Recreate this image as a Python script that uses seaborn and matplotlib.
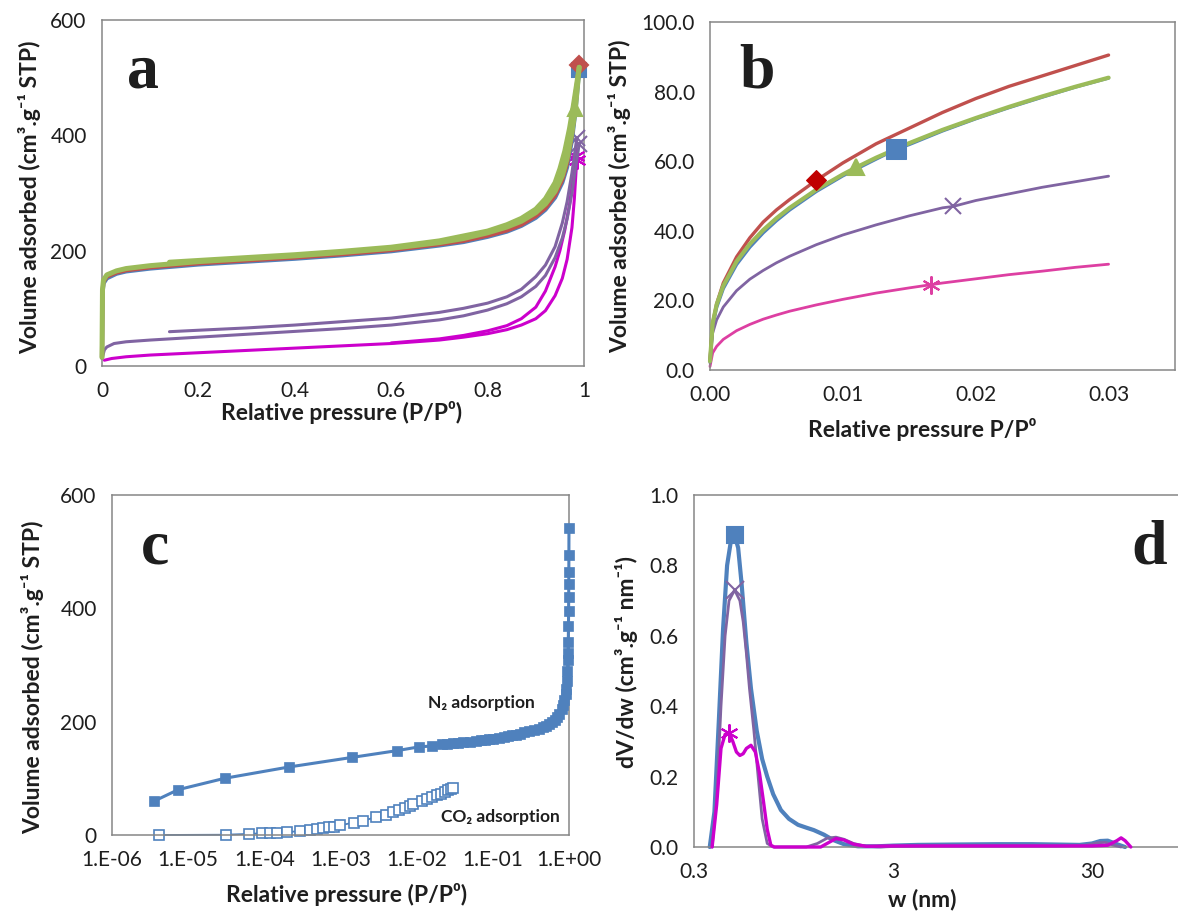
import matplotlib
matplotlib.use("Agg")
import matplotlib.pyplot as plt
import seaborn as sns
from matplotlib.ticker import FixedLocator, FixedFormatter, NullLocator

# ---------------------------------------------------------------- data
# (a) full N2 isotherms: adsorption branch and desorption branch per sample
a_ads_p = [0.0, 0.001, 0.003, 0.01, 0.03, 0.05, 0.1, 0.2, 0.3, 0.4, 0.5, 0.6,
           0.7, 0.75, 0.8, 0.84, 0.87, 0.9, 0.92, 0.94, 0.955, 0.965, 0.975,
           0.982, 0.99]
a_blue_ads = [15, 125, 143, 152, 160, 164, 169, 176, 181, 186, 192, 199, 209,
              215, 224, 233, 243, 257, 271, 292, 318, 345, 392, 440, 513]
a_red_ads = [15, 128, 146, 155, 162, 166, 171, 178, 183, 188, 194, 201, 211,
             217, 226, 235, 245, 260, 274, 296, 323, 352, 400, 450, 522]
a_green_ads = [15, 132, 149, 158, 165, 169, 174, 181, 186, 191, 197, 204, 214,
               221, 231, 241, 251, 266, 281, 303, 330, 360, 405, 445, 518]

a_des_p = [0.99, 0.985, 0.978, 0.97, 0.96, 0.95, 0.94, 0.92, 0.9, 0.87, 0.84,
           0.8, 0.7, 0.6, 0.5, 0.4, 0.3, 0.2, 0.14]
a_blue_des = [513, 480, 440, 400, 360, 330, 308, 280, 263, 248, 237, 227, 211,
              201, 194, 188, 183, 178, 175]
a_red_des = [522, 488, 448, 408, 368, 337, 314, 285, 267, 251, 240, 230, 214,
             203, 196, 190, 185, 180, 177]
a_green_des = [518, 490, 452, 412, 372, 342, 318, 290, 272, 256, 245, 234,
               217, 206, 199, 193, 188, 183, 180]

a_pur_ads_p = [0.0, 0.005, 0.01, 0.025, 0.05, 0.1, 0.2, 0.3, 0.4, 0.5, 0.6,
               0.7, 0.75, 0.8, 0.84, 0.87, 0.9, 0.92, 0.94, 0.955, 0.965,
               0.975, 0.982, 0.99]
a_pur_ads = [13, 28, 33, 39, 42, 45, 50, 55, 60, 65, 71, 80, 87, 97, 108, 120,
             138, 157, 188, 222, 255, 300, 340, 385]
a_pur_des_p = [0.985, 0.98, 0.975, 0.965, 0.955, 0.94, 0.92, 0.9, 0.87, 0.84,
               0.8, 0.75, 0.7, 0.6, 0.5, 0.4, 0.3, 0.2, 0.14]
a_pur_des = [395, 365, 335, 285, 248, 207, 175, 155, 133, 120, 109, 100, 93,
             83, 77, 71, 66, 62, 59.5]

a_mag_ads_p = [0.005, 0.02, 0.05, 0.1, 0.2, 0.3, 0.4, 0.5, 0.6, 0.7, 0.75,
               0.8, 0.84, 0.87, 0.9, 0.92, 0.94, 0.955, 0.965, 0.975, 0.98,
               0.985]
a_mag_ads = [10, 13, 16, 19, 23, 27, 31, 35, 39, 45, 50, 56, 63, 71, 82, 96,
             122, 152, 185, 240, 290, 358]
a_mag_des_p = [0.983, 0.978, 0.97, 0.96, 0.95, 0.94, 0.92, 0.9, 0.87, 0.84,
               0.8, 0.75, 0.7, 0.6]
a_mag_des = [365, 330, 280, 235, 200, 172, 130, 102, 82, 70, 61, 53, 47, 40]

# (b) low-pressure region of the isotherms
b_red_p = [0, 0.0002, 0.0005, 0.001, 0.002, 0.003, 0.004, 0.005, 0.006, 0.008,
           0.010, 0.0125, 0.015, 0.0175, 0.020, 0.0225, 0.025, 0.0275, 0.030]
b_red_v = [3.0, 13.5, 19.0, 25.0, 32.5, 38.0, 42.5, 46.0, 49.0, 54.5, 59.5,
           65.0, 69.5, 74.0, 78.0, 81.5, 84.5, 87.5, 90.5]
b_green_p = [0, 0.0002, 0.0005, 0.001, 0.002, 0.003, 0.004, 0.005, 0.006,
             0.008, 0.010, 0.011, 0.0125, 0.015, 0.0175, 0.020, 0.0225, 0.025,
             0.0275, 0.030]
b_green_v = [2.5, 13.4, 18.8, 24.2, 31.2, 36.2, 40.2, 43.6, 46.6, 51.8, 56.2,
             58.2, 61.0, 65.2, 69.0, 72.4, 75.6, 78.6, 81.4, 84.0]
b_blue_p = [0, 0.0002, 0.0005, 0.001, 0.002, 0.003, 0.004, 0.005, 0.006,
            0.008, 0.010, 0.0125, 0.014, 0.015, 0.0175, 0.020, 0.0225, 0.025,
            0.0275, 0.030]
b_blue_v = [2.5, 12.8, 18.0, 23.4, 30.3, 35.3, 39.4, 42.9, 46.0, 51.3, 55.8,
            60.6, 63.4, 64.8, 68.7, 72.2, 75.4, 78.4, 81.3, 83.9]
b_pur_p = [0, 0.0002, 0.0005, 0.001, 0.002, 0.003, 0.004, 0.005, 0.006, 0.008,
           0.010, 0.0125, 0.015, 0.0175, 0.0183, 0.020, 0.0225, 0.025, 0.0275,
           0.030]
b_pur_v = [2.0, 10.6, 14.4, 18.1, 22.8, 26.1, 28.6, 30.8, 32.7, 36.0, 38.8,
           41.7, 44.3, 46.6, 47.0, 48.7, 50.6, 52.5, 54.1, 55.7]
b_pink_p = [0, 0.0002, 0.0005, 0.001, 0.002, 0.003, 0.004, 0.005, 0.006,
            0.008, 0.010, 0.0125, 0.015, 0.0166, 0.0175, 0.020, 0.0225, 0.025,
            0.0275, 0.030]
b_pink_v = [1.0, 4.9, 6.8, 8.8, 11.3, 13.1, 14.6, 15.8, 16.9, 18.7, 20.3,
            22.1, 23.6, 24.5, 25.0, 26.2, 27.4, 28.4, 29.5, 30.4]

# (c) N2 and CO2 adsorption on a log pressure scale
c_n2_p = [3.6e-6, 7.4e-6, 3.0e-5, 2.1e-4, 1.43e-3, 5.6e-3, 0.0108, 0.0158,
          0.0213, 0.025, 0.03, 0.035, 0.04, 0.05, 0.06, 0.07, 0.08, 0.09, 0.1,
          0.12, 0.14, 0.16, 0.18, 0.2, 0.23, 0.26, 0.3, 0.35, 0.4, 0.45, 0.5,
          0.55, 0.6, 0.65, 0.7, 0.75, 0.8, 0.84, 0.87, 0.9, 0.92, 0.94, 0.955,
          0.965, 0.972, 0.978, 0.984, 0.988, 0.991, 0.993, 0.995, 0.997, 0.999]
c_n2_v = [60, 80, 100, 120, 137, 149, 155.6, 157, 160, 161, 162, 163, 164,
          165, 166, 167, 168, 169, 170, 172, 173, 175, 176, 177, 179, 181, 183,
          185, 187, 190, 193, 196, 199, 203, 208, 214, 222, 230, 238, 248, 258,
          272, 290, 308, 322, 340, 368, 395, 420, 443, 465, 495, 542]
c_co2_p = [4.1e-6, 3.1e-5, 6.2e-5, 9.2e-5, 1.2e-4, 1.47e-4, 2.0e-4, 2.9e-4,
           4.0e-4, 4.9e-4, 5.9e-4, 7.0e-4, 8.2e-4, 9.8e-4, 1.5e-3, 2.0e-3,
           2.95e-3, 3.96e-3, 4.9e-3, 5.9e-3, 7.0e-3, 8.2e-3, 9.0e-3, 0.0116,
           0.0138, 0.016, 0.0183, 0.0207, 0.0233, 0.0258, 0.0282, 0.0302]
c_co2_v = [0.0, 0.5, 2, 3, 4, 4, 5, 7, 9, 10, 12, 13.5, 15, 17, 22, 25, 32, 36,
           40, 44, 47, 51, 54, 60, 64, 67, 71, 73, 76, 79, 81, 83.6]

# (d) pore size distributions
d_blue_w = [0.36, 0.38, 0.40, 0.42, 0.44, 0.46, 0.48, 0.50, 0.52, 0.55, 0.58,
            0.62, 0.66, 0.70, 0.75, 0.82, 0.90, 1.0, 1.1, 1.2, 1.35, 1.5, 1.7,
            2.0, 2.5, 3.0, 4.0, 6.0, 10, 15, 20, 26, 30, 33, 36, 40, 44]
d_blue_v = [0.0, 0.10, 0.36, 0.62, 0.80, 0.87, 0.886, 0.85, 0.75, 0.58, 0.45,
            0.33, 0.25, 0.20, 0.15, 0.105, 0.08, 0.063, 0.055, 0.048, 0.035,
            0.02, 0.008, 0.002, 0.002, 0.004, 0.006, 0.007, 0.008, 0.008,
            0.007, 0.006, 0.010, 0.017, 0.018, 0.008, 0.0]
d_pur_w = [0.37, 0.39, 0.41, 0.43, 0.45, 0.48, 0.51, 0.53, 0.55, 0.57, 0.60,
           0.63, 0.66, 0.70, 0.75, 0.9, 1.1, 1.25, 1.4, 1.55, 1.7, 1.9, 2.2,
           2.6, 3.2, 5, 10, 20, 28, 32, 35, 38, 42]
d_pur_v = [0.0, 0.14, 0.40, 0.60, 0.70, 0.73, 0.70, 0.64, 0.55, 0.45, 0.33,
           0.20, 0.08, 0.01, 0.0, 0.0, 0.0, 0.01, 0.025, 0.028, 0.022, 0.01,
           0.002, 0.0, 0.002, 0.003, 0.003, 0.003, 0.005, 0.012, 0.013, 0.006,
           0.0]
d_mag_w = [0.37, 0.39, 0.41, 0.43, 0.45, 0.47, 0.49, 0.51, 0.53, 0.55, 0.58,
           0.61, 0.64, 0.67, 0.70, 0.73, 0.76, 1.0, 1.3, 1.45, 1.55, 1.7, 1.9,
           2.2, 3, 5, 10, 20, 30, 36, 40, 42, 44, 47]
d_mag_v = [0.0, 0.12, 0.28, 0.32, 0.325, 0.30, 0.27, 0.26, 0.265, 0.28, 0.289,
           0.27, 0.21, 0.13, 0.05, 0.005, 0.0, 0.0, 0.0, 0.015, 0.024, 0.02,
           0.008, 0.002, 0.003, 0.003, 0.003, 0.003, 0.003, 0.005, 0.018,
           0.026, 0.018, 0.0]

a_xticks = [0, 0.2, 0.4, 0.6, 0.8, 1.0]
a_xlabels = ["0", "0.2", "0.4", "0.6", "0.8", "1"]
iso_yticks = [0, 200, 400, 600]
b_xticks = [0.0, 0.01, 0.02, 0.03]
b_yticks = [0, 20, 40, 60, 80, 100]
c_xticks = [1e-6, 1e-5, 1e-4, 1e-3, 1e-2, 1e-1, 1e0]
c_xlabels = ["1.E-06", "1.E-05", "1.E-04", "1.E-03", "1.E-02", "1.E-01",
             "1.E+00"]
d_xticks = [0.3, 3, 30]
d_xlabels = ["0.3", "3", "30"]
d_yticks = [0.0, 0.2, 0.4, 0.6, 0.8, 1.0]

# ---------------------------------------------------------------- style
BLUE, RED, GREEN = "#4F81BD", "#C0504D", "#9BBB59"
PURPLE, MAGENTA, PINK = "#8064A2", "#CC00CC", "#DD3FA2"
DARKRED = "#C00000"
AXIS_GREY = "#868686"
TEXT = "#1e1e1e"

sns.set_style("white")
plt.rcParams["font.family"] = ["Lato", "DejaVu Sans"]

W, H = 1178, 911
fig = plt.figure(figsize=(W / 100, H / 100), dpi=100)


def make_axes(left, right, top, bottom):
    ax = fig.add_axes([left / W, 1 - bottom / H, (right - left) / W,
                       (bottom - top) / H])
    for s in ax.spines.values():
        s.set_color(AXIS_GREY)
        s.set_linewidth(1.1)
    ax.tick_params(direction="out", length=6, width=1.1, color=AXIS_GREY,
                   labelsize=15, labelcolor=TEXT, pad=5)
    ax.set_facecolor("white")
    return ax


def curve(ax, x, y, color, lw, marker=None, ms=10, idx=None, mfc=None,
          mew=1.5, z=2):
    kw = dict(x=x, y=y, ax=ax, color=color, linewidth=lw, sort=False,
              estimator=None, zorder=z, clip_on=False)
    if marker is not None:
        kw.update(marker=marker, markersize=ms, markevery=idx,
                  markerfacecolor=mfc if mfc is not None else color,
                  markeredgecolor=color, markeredgewidth=mew)
    sns.lineplot(**kw)


def fig_text(x, y, s, **kw):
    fig.text(x / W, 1 - y / H, s, ha="center", va="center", color=TEXT, **kw)


ASTER = (6, 2, 0)

# ---------------------------------------------------------------- (a)
ax = make_axes(102, 584, 20, 366)
curve(ax, a_mag_ads_p, a_mag_ads, MAGENTA, 2.2, ASTER, 13, [21], z=3)
curve(ax, a_mag_des_p, a_mag_des, MAGENTA, 2.2, ASTER, 13, [0], z=3)
curve(ax, a_pur_ads_p, a_pur_ads, PURPLE, 2.2, "x", 12, [23], z=3)
curve(ax, a_pur_des_p, a_pur_des, PURPLE, 2.2, "x", 12, [0], z=3)
curve(ax, a_ads_p, a_blue_ads, BLUE, 3.0, "s", 10, [24], z=4)
curve(ax, a_des_p, a_blue_des, BLUE, 3.0, z=4)
curve(ax, a_ads_p, a_red_ads, RED, 3.0, z=5)
curve(ax, a_des_p, a_red_des, RED, 3.0, "D", 9, [0], z=5)
curve(ax, a_ads_p, a_green_ads, GREEN, 3.6, "^", 10, [23], z=6)
curve(ax, a_des_p, a_green_des, GREEN, 3.6, z=6)
ax.set_xlim(0, 1)
ax.set_ylim(0, 600)
ax.xaxis.set_major_locator(FixedLocator(a_xticks))
ax.xaxis.set_major_formatter(FixedFormatter(a_xlabels))
ax.yaxis.set_major_locator(FixedLocator(iso_yticks))
ax.set_xlabel("")
ax.set_ylabel("")

# ---------------------------------------------------------------- (b)
ax = make_axes(710, 1175, 22, 370)
curve(ax, b_pink_p, b_pink_v, PINK, 2.0, ASTER, 13, [13])
curve(ax, b_pur_p, b_pur_v, PURPLE, 2.0, "x", 12, [14])
curve(ax, b_blue_p, b_blue_v, BLUE, 2.4, z=3)
curve(ax, b_red_p, b_red_v, RED, 2.4, z=3)
curve(ax, b_green_p, b_green_v, GREEN, 3.0, "^", 11, [11], z=4)
sns.lineplot(x=[b_red_p[9]], y=[b_red_v[9]], ax=ax, marker="D", markersize=10,
             color=DARKRED, markeredgecolor=DARKRED, linewidth=0, zorder=6)
sns.lineplot(x=[b_blue_p[12]], y=[b_blue_v[12]], ax=ax, marker="s",
             markersize=14, color=BLUE, markeredgecolor=BLUE, linewidth=0,
             zorder=6)
ax.set_xlim(0, 0.035)
ax.set_ylim(0, 100)
ax.xaxis.set_major_locator(FixedLocator(b_xticks))
ax.xaxis.set_major_formatter(FixedFormatter([f"{t:.2f}" for t in b_xticks]))
ax.yaxis.set_major_locator(FixedLocator(b_yticks))
ax.yaxis.set_major_formatter(FixedFormatter([f"{t:.1f}" for t in b_yticks]))
ax.set_xlabel("")
ax.set_ylabel("")

# ---------------------------------------------------------------- (c)
ax = make_axes(112, 569, 495, 835)
ax.set_xscale("log")
curve(ax, c_co2_p, c_co2_v, BLUE, 1.3, "s", 7, None, mfc="white", mew=1.2)
curve(ax, c_n2_p, c_n2_v, BLUE, 2.2, "s", 7.5, None, mew=0.5, z=3)
ax.set_xlim(1e-6, 1.0)
ax.set_ylim(0, 600)
ax.xaxis.set_major_locator(FixedLocator(c_xticks))
ax.xaxis.set_major_formatter(FixedFormatter(c_xlabels))
ax.xaxis.set_minor_locator(NullLocator())
ax.yaxis.set_major_locator(FixedLocator(iso_yticks))
ax.set_xlabel("")
ax.set_ylabel("")
fig_text(481, 703, "N₂ adsorption", fontsize=12.5, fontweight="bold")
fig_text(500, 817, "CO₂ adsorption", fontsize=12.5, fontweight="bold")

# ---------------------------------------------------------------- (d)
ax = make_axes(694, 1192, 495, 847)
ax.set_xscale("log")
curve(ax, d_blue_w, d_blue_v, BLUE, 3.0, "s", 12, [6], z=2)
curve(ax, d_pur_w, d_pur_v, PURPLE, 2.0, "x", 13, [5], z=3)
curve(ax, d_mag_w, d_mag_v, MAGENTA, 2.4, ASTER, 13, [4], z=4)
ax.set_xlim(0.3, 0.3 * 10 ** ((1192 - 694) / 199.0))
ax.set_ylim(0, 1.0)
ax.xaxis.set_major_locator(FixedLocator(d_xticks))
ax.xaxis.set_major_formatter(FixedFormatter(d_xlabels))
ax.xaxis.set_minor_locator(NullLocator())
ax.yaxis.set_major_locator(FixedLocator(d_yticks))
ax.yaxis.set_major_formatter(FixedFormatter([f"{t:.1f}" for t in d_yticks]))
ax.set_xlabel("")
ax.set_ylabel("")

# ---------------------------------------------------------------- labels
ylab_iso = "Volume adsorbed (cm³.g⁻¹ STP)"
lab = dict(fontsize=16.5, fontweight="bold")
fig_text(30, 197, ylab_iso, rotation=90, **lab)
fig_text(620, 196, ylab_iso, rotation=90, **lab)
fig_text(33, 677, ylab_iso, rotation=90, **lab)
fig_text(626, 662, "dV/dw (cm³.g⁻¹ nm⁻¹)", rotation=90, **lab)
fig_text(342, 412, "Relative pressure (P/P⁰)", **lab)
fig_text(922, 430, "Relative pressure P/P⁰", **lab)
fig_text(347, 894, "Relative pressure (P/P⁰)", **lab)
fig_text(922, 900, "w (nm)", **lab)

letter = dict(fontsize=46, fontweight="bold", family="Liberation Serif")
fig_text(143, 72, "a", **letter)
fig_text(757, 72, "b", **letter)
fig_text(155, 548, "c", **letter)
fig_text(1149, 548, "d", **letter)

fig.savefig("out.png", dpi=100, facecolor="white")
